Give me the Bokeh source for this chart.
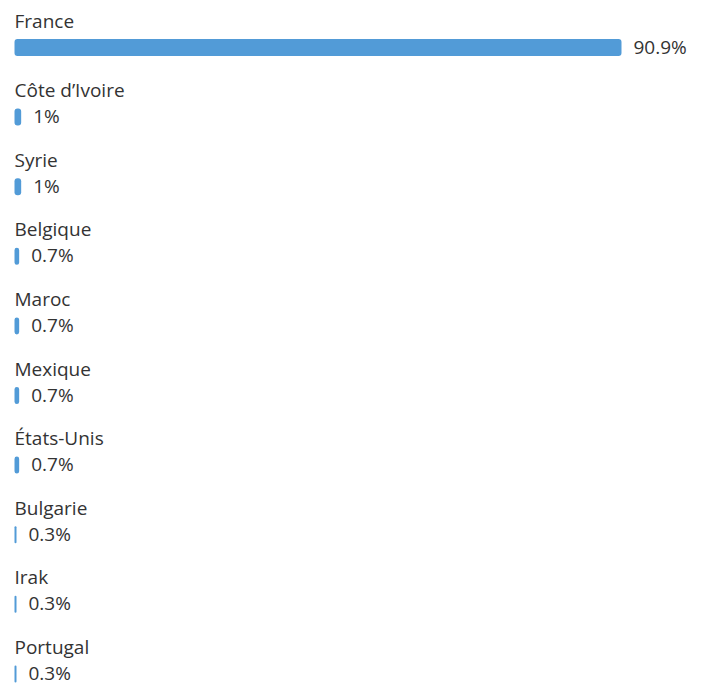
from bokeh.plotting import figure
from bokeh.models import Range1d, ColumnDataSource
from bokeh.core.properties import value
from bokeh.embed import file_html
from bokeh.resources import INLINE

countries = ["France", "Côte d\u2019Ivoire", "Syrie", "Belgique", "Maroc", "Mexique",
             "États-Unis", "Bulgarie", "Irak", "Portugal"]
values = [90.9, 1, 1, 0.7, 0.7, 0.7, 0.7, 0.3, 0.3, 0.3]
labels = ["90.9%", "1%", "1%", "0.7%", "0.7%", "0.7%", "0.7%", "0.3%", "0.3%", "0.3%"]

W, H = 705, 685
px_per_unit = 607 / 90.9
row_px = 69.6
left_pad = 14
top_pad = 47

idx = list(range(len(countries)))
src = ColumnDataSource(dict(y=idx, v=values, name=countries, lab=labels,
                            ly=[i - 27 / row_px for i in idx]))

p = figure(width=W, height=H, output_backend="svg", toolbar_location=None,
           x_range=Range1d(-left_pad / px_per_unit, (W - left_pad) / px_per_unit),
           y_range=Range1d((H - top_pad) / row_px, -top_pad / row_px),
           min_border=0)
p.axis.visible = False
p.grid.visible = False
p.outline_line_color = None

p.hbar(y="y", left=0, right="v", height=17 / row_px, source=src,
       fill_color="#529bd7", line_color=None, border_radius=3)
p.text(x=0, y="ly", text="name", source=src, text_font=value("Open Sans"),
       text_font_size="19px", text_color="#333333", text_baseline="alphabetic",
       x_offset=0)
p.text(x="v", y="y", text="lab", source=src, text_font=value("Open Sans"),
       text_font_size="19px", text_color="#333333", text_baseline="middle",
       x_offset=12, y_offset=-1)

open("out.html", "w").write(file_html(p, INLINE))
